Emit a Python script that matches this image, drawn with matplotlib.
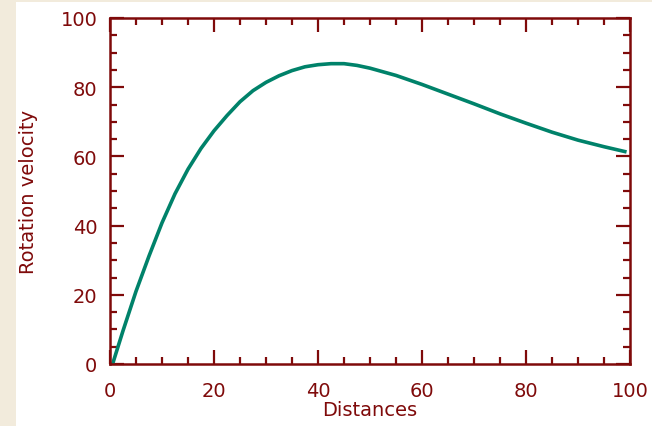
import numpy as np
import matplotlib
matplotlib.use("Agg")
import matplotlib.pyplot as plt
from matplotlib.patches import Rectangle
from matplotlib.ticker import MultipleLocator

# rotation curve
distance = [0.5, 2.5, 5, 7.5, 10, 12.5, 15, 17.5, 20, 22.5, 25, 27.5, 30, 32.5,
            35, 37.5, 40, 42.5, 45, 47.5, 50, 55, 60, 65, 70, 75, 80, 85, 90, 95, 99]
velocity = [0, 9.6, 21, 31.2, 40.8, 49.2, 56.3, 62.3, 67.4, 71.8, 75.8, 79.0, 81.4, 83.3,
            84.8, 85.9, 86.5, 86.8, 86.8, 86.3, 85.5, 83.4, 80.8, 78.0, 75.2, 72.3, 69.6,
            67.0, 64.7, 62.8, 61.4]

x_ticks = [0, 20, 40, 60, 80, 100]
y_ticks = [0, 20, 40, 60, 80, 100]

dark_red = '#7f0a0a'
teal = '#00826a'

fig = plt.figure(figsize=(6.52, 4.27), dpi=100)
fig.patch.set_facecolor('#f2ebdc')
fig.patches.append(Rectangle((16/652, 0), 1, 1 - 3/427, transform=fig.transFigure,
                             facecolor='white', edgecolor='none', zorder=-1))

ax = fig.add_axes([110/652, 1 - 365/427, (630-110)/652, (365-19)/427])
ax.set_zorder(1)
ax.set_facecolor('white')
ax.plot(distance, velocity, color=teal, linewidth=2.6, solid_joinstyle='round')

ax.set_xlim(0, 100)
ax.set_ylim(0, 100)
ax.set_xticks(x_ticks)
ax.set_yticks(y_ticks)
ax.xaxis.set_minor_locator(MultipleLocator(5))
ax.yaxis.set_minor_locator(MultipleLocator(5))

ax.tick_params(which='both', direction='in', top=True, right=True,
               color=dark_red, width=1.6, labelcolor=dark_red, labelsize=14)
ax.tick_params(which='major', length=10)
ax.tick_params(which='minor', length=5)
ax.tick_params(axis='x', which='major', pad=12)
ax.tick_params(axis='y', which='major', pad=9)

for spine in ax.spines.values():
    spine.set_color(dark_red)
    spine.set_linewidth(1.8)

ax.set_xlabel('Distances', color=dark_red, fontsize=14, labelpad=0)
ax.set_ylabel('Rotation velocity', color=dark_red, fontsize=14, labelpad=16)

plt.savefig('out.png', dpi=100, facecolor=fig.get_facecolor())
plt.close()
